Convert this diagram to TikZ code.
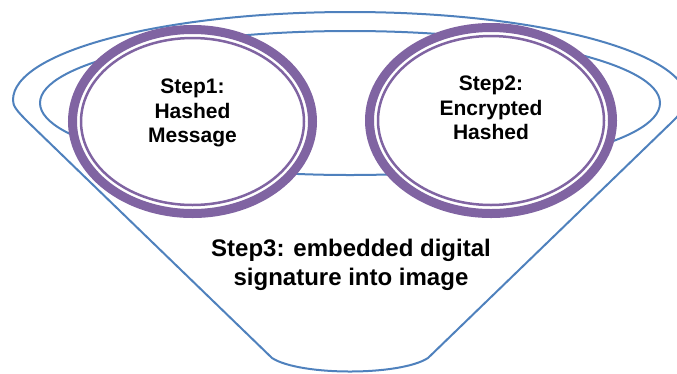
\documentclass[tikz,border=0pt]{standalone}
\usepackage{fontspec}
\setmainfont{Liberation Sans}
\usepackage{tikz}
\usetikzlibrary{shapes.geometric,positioning}
\definecolor{funnelblue}{RGB}{79,129,189}
\definecolor{ringpurple}{RGB}{128,100,162}
\tikzset{
    %Define style for funnel lines
    funnel/.style={
           draw=funnelblue,
           line width=2pt,
           line join=round,
           },
    %Define style for rings
    ring/.style={
           ellipse,
           draw=ringpurple,
           line width=9pt,
           fill=white,
           inner sep=0pt,
           },
    ringinner/.style={
           draw=ringpurple,
           line width=2.5pt,
           },
    %Define style for texts
    steptext/.style={
           align=center,
           font=\fontsize{21}{24.5}\selectfont\bfseries,
           },
    bottomtext/.style={
           align=center,
           font=\fontsize{24}{29}\selectfont\bfseries,
           }
}
\begin{document}
\begin{tikzpicture}[x=1pt,y=-1pt]
\useasboundingbox (0,0) rectangle (677,373);

 %funnel
\draw[funnel] (272,358) -- (28,122) .. controls (16,110) and (13,106) .. (13,100)
    arc[start angle=180, end angle=360, x radius=337, y radius=88]
    .. controls (687,106) and (684,110) .. (672,122) -- (428,358)
    .. controls (400,376) and (300,376) .. (272,358) -- cycle;
\draw[funnel] (350,103) ellipse [x radius=310, y radius=72];

 %rings
\node[ring, minimum width=240pt, minimum height=184pt] (s1) at (192.5,121.5) {};
\node[ring, minimum width=243pt, minimum height=186pt] (s2) at (491,120.5) {};
\draw[ringinner] (s1.center) ellipse [x radius=111.5, y radius=83.5];
\draw[ringinner] (s2.center) ellipse [x radius=113, y radius=84.5];

 %texts
\node[steptext] (t1) at ([yshift=8.5pt]s1.center) {Step1:\\Hashed\\Message};
\node[steptext] (t2) at ([yshift=12.5pt]s2.center) {Step2:\\Encrypted\\Hashed};
\node[bottomtext] (t3) at (351,265) {Step3: embedded digital\\signature into image};

\end{tikzpicture}
\end{document}
